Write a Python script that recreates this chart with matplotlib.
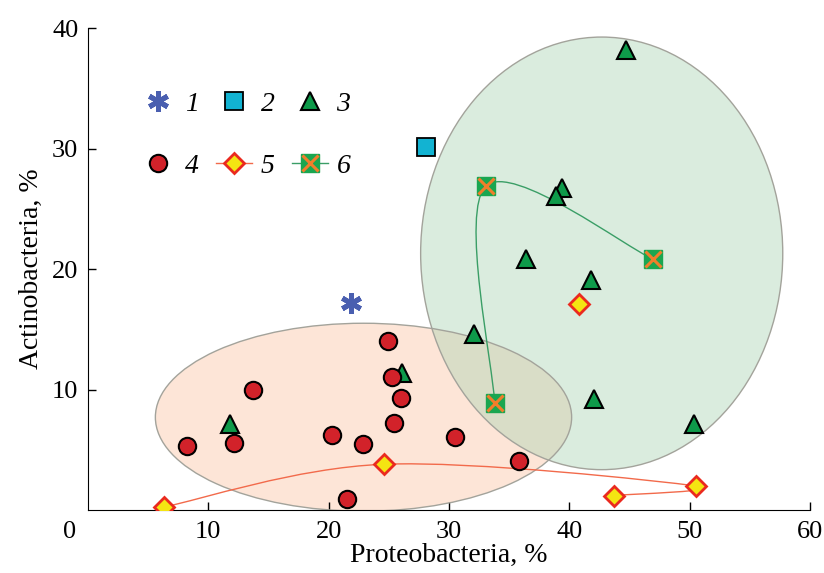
import numpy as np
import matplotlib.pyplot as plt
from matplotlib.patches import Ellipse, PathPatch
from matplotlib.path import Path

plt.rcParams['font.family'] = ['Liberation Serif', 'DejaVu Serif']

# series 1..6 (Proteobacteria %, Actinobacteria %)
x1 = [21.9]
y1 = [17.2]

x2 = [28.1]
y2 = [30.1]

x3 = [44.7, 39.4, 38.9, 36.4, 41.8, 32.1, 26.1, 42.1, 50.4, 11.8]
y3 = [38.2, 26.7, 26.1, 20.8, 19.1, 14.6, 11.4, 9.2, 7.1, 7.1]

x4 = [8.2, 12.1, 13.7, 20.3, 21.5, 22.9, 24.9, 25.3, 26.0, 25.4, 30.5, 35.8]
y4 = [5.3, 5.6, 10.0, 6.2, 0.9, 5.5, 14.0, 11.0, 9.3, 7.2, 6.1, 4.1]

x5 = [6.3, 24.6, 50.5, 43.7]
y5 = [0.25, 3.8, 2.0, 1.2]
x5_extra = [40.8]
y5_extra = [17.1]

x6 = [33.8, 33.1, 47.0]
y6 = [8.9, 26.9, 20.8]

# groups drawn as ellipses: centre x, centre y, width, height
ell_orange = (22.9, 7.7, 34.6, 15.6)
ell_green = (42.7, 21.3, 30.1, 35.9)


def smooth_path(xs, ys):
    # catmull-rom style bezier through the points
    p = np.column_stack([xs, ys])
    pts = np.vstack([p[0], p, p[-1]])
    verts = [p[0]]
    codes = [Path.MOVETO]
    for i in range(1, len(pts) - 2):
        c1 = pts[i] + (pts[i + 1] - pts[i - 1]) / 6
        c2 = pts[i + 1] - (pts[i + 2] - pts[i]) / 6
        verts += [c1, c2, pts[i + 1]]
        codes += [Path.CURVE4] * 3
    return Path(verts, codes)


fig = plt.figure(figsize=(8.24, 5.73), dpi=100)
ax = fig.add_axes([0.1068, 0.1099, 0.876, 0.8412])
ax.set_xlim(0, 60)
ax.set_ylim(0, 40)

e1 = Ellipse(ell_orange[:2], ell_orange[2], ell_orange[3], facecolor='#fabe9d',
             alpha=0.4, edgecolor='none', zorder=1)
e2 = Ellipse(ell_green[:2], ell_green[2], ell_green[3], facecolor='#a8d3b2',
             alpha=0.42, edgecolor='none', zorder=1)
ax.add_patch(e1)
ax.add_patch(e2)
for ell in (ell_orange, ell_green):
    ax.add_patch(Ellipse(ell[:2], ell[2], ell[3], facecolor='none',
                         edgecolor='#a3a39b', lw=1.0, zorder=2))

ax.add_patch(PathPatch(smooth_path(x5, y5), facecolor='none', edgecolor='#f26a4b',
                       lw=1.0, zorder=3))
ax.add_patch(PathPatch(smooth_path(x6, y6), facecolor='none', edgecolor='#3a9e66',
                       lw=1.0, zorder=3))

h1, = ax.plot(x1, y1, ls='none', marker=(6, 2, 0), ms=15, mec='#4a5fb0', mew=3.6, zorder=5)
h2, = ax.plot(x2, y2, ls='none', marker='s', ms=12.5, mfc='#12b3d2', mec='black', mew=1.3, zorder=5)
h3, = ax.plot(x3, y3, ls='none', marker='^', ms=13, mfc='#0e9a4a', mec='black', mew=1.5, zorder=5)
h4, = ax.plot(x4, y4, ls='none', marker='o', ms=12.5, mfc='#d2222a', mec='black', mew=1.5, zorder=6)
ax.plot(x5, y5, ls='none', marker='D', ms=10, mfc='#f4e512', mec='#ea2a1f', mew=2, zorder=7)
ax.plot(x5_extra, y5_extra, ls='none', marker='D', ms=10, mfc='#f4e512', mec='#ea2a1f', mew=2, zorder=7)
ax.plot(x6, y6, ls='none', marker='s', ms=13, mfc='#1aa650', mec='#1aa650', zorder=7)
ax.plot(x6, y6, ls='none', marker='x', ms=12, mec='#f07e2b', mew=2.2, zorder=8)

# legend handles with connecting lines for 5 and 6
l5, = ax.plot([], [], color='#f26a4b', lw=1.0, marker='D', ms=10, mfc='#f4e512', mec='#ea2a1f', mew=2)
l6a, = ax.plot([], [], color='#3a9e66', lw=1.0, marker='s', ms=13, mfc='#1aa650', mec='#1aa650')
l6b, = ax.plot([], [], ls='none', marker='x', ms=12, mec='#f07e2b', mew=2.2)

leg = ax.legend([h1, h4, h2, l5, h3, (l6a, l6b)], ['1', '4', '2', '5', '3', '6'],
                ncol=3, loc='upper left', bbox_to_anchor=(0.038, 0.92), frameon=False,
                handlelength=1.3, handletextpad=0.3, columnspacing=0.63,
                labelspacing=1.3, prop={'style': 'italic', 'size': 20})

ax.spines['top'].set_visible(False)
ax.spines['right'].set_visible(False)
ax.set_xticks([10, 20, 30, 40, 50, 60])
ax.set_yticks([10, 20, 30, 40])
ax.tick_params(direction='in', length=6, width=1, labelsize=19)
ax.tick_params(axis='x', pad=8)
ax.tick_params(axis='y', pad=7)
ax.text(-1.5, -0.95, '0', fontsize=19, ha='center', va='top')
ax.set_xlabel('Proteobacteria, %', fontsize=20, labelpad=0)
ax.set_ylabel('Actinobacteria, %', fontsize=20, labelpad=6)

fig.savefig('out.png', dpi=100)
